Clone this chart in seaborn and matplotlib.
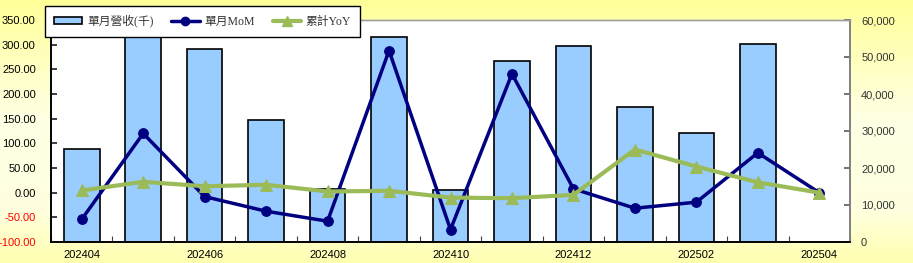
import numpy as np
import pandas as pd
import matplotlib
matplotlib.use("Agg")
import matplotlib.pyplot as plt
import matplotlib.patches as mpatches
import matplotlib.lines as mlines
from matplotlib.colors import LinearSegmentedColormap
import seaborn as sns

months = ["202404", "202405", "202406", "202407", "202408", "202409", "202410",
          "202411", "202412", "202501", "202502", "202503", "202504"]
revenue = [25200, 55600, 52100, 32900, 14200, 55500, 14100,
           48900, 53000, 36600, 29500, 53400, np.nan]
mom = [-54, 120, -8, -37.6, -57.8, 288, -74.7, 241, 7.8, -31.5, -19.3, 80.8, 0]
yoy = [4.4, 22, 13, 16, 2.4, 3.8, -10, -11.2, -4.4, 87.5, 53, 21, 0]
tick_labels = ["202404", "", "202406", "", "202408", "", "202410", "",
               "202412", "", "202502", "", "202504"]

sns.set_theme(style="white")
plt.rcParams['font.family'] = ['Liberation Sans', 'Noto Sans CJK TC', 'DejaVu Sans']

W, H = 913, 263
fig = plt.figure(figsize=(W / 100, H / 100), dpi=100)

# gradient background
bg = fig.add_axes([0, 0, 1, 1], zorder=-10)
cmap = LinearSegmentedColormap.from_list(
    "bgy", [(0.0, "#FFFF99"), (0.45, "#FFFFE4"), (0.8, "#FFFFE0"), (1.0, "#FFFFB0")])
grad = np.linspace(0, 1, 256).reshape(-1, 1)
bg.imshow(grad, aspect="auto", cmap=cmap, extent=[0, 1, 0, 1], origin="upper")
bg.axis("off")

x0, x1, y0, y1 = 51, 850, 20, 242
ax = fig.add_axes([x0 / W, 1 - y1 / H, (x1 - x0) / W, (y1 - y0) / H])
ax.set_facecolor("white")

df = pd.DataFrame({"month": months, "revenue": revenue})
sns.barplot(data=df, x="month", y="revenue", order=months, ax=ax,
            color="#99CCFF", saturation=1, width=0.58,
            edgecolor="black", linewidth=1.2, errorbar=None)
ax.set_xlim(-0.5, len(months) - 0.5)
ax.set_ylim(0, 60000)
ax.set_yticks(np.arange(0, 60001, 10000))
ax.set_yticklabels([f"{v:,}" for v in range(0, 60001, 10000)])
ax.set_xlabel("")
ax.set_ylabel("")

ax2 = ax.twinx()
xs = np.arange(len(months))
sns.lineplot(x=xs, y=mom, ax=ax2, color="#000080", linewidth=2.5,
             marker="o", markersize=7, markeredgecolor="#000080", zorder=3)
sns.lineplot(x=xs, y=yoy, ax=ax2, color="#9BBB59", linewidth=3,
             marker="^", markersize=9, markeredgecolor="#9BBB59", zorder=4)
ax2.set_ylim(-100, 350)
ax2.set_yticks(np.arange(-100, 351, 50))
ax2.set_yticklabels([f"{v:.2f}" for v in np.arange(-100, 351, 50)])
ax2.set_ylabel("")

# swap sides: bars axis on right, lines axis on left
ax.yaxis.tick_right()
ax.yaxis.set_label_position("right")
ax2.yaxis.tick_left()
ax2.yaxis.set_label_position("left")

for lbl, v in zip(ax2.get_yticklabels(), np.arange(-100, 351, 50)):
    lbl.set_color("#FF0000" if v < 0 else "black")

ax.set_xticks(xs)
ax.set_xticklabels(tick_labels)
ax.set_xticks(np.arange(-0.5, len(months), 1.0), minor=True)
ax.tick_params(axis="x", which="major", length=0, labelsize=8, pad=6, colors="black")
ax.tick_params(axis="x", which="minor", length=4, width=0.8, direction="in",
               color="#404040", bottom=True)
ax.tick_params(axis="y", which="major", length=4, direction="in", labelsize=8,
               labelcolor="#333333", color="#606060", right=True, left=False,
               labelright=True, labelleft=False, pad=8)
ax2.tick_params(axis="y", which="major", length=4, direction="in", labelsize=8,
                left=True, right=False, labelleft=True, labelright=False, pad=11)
ax.grid(False)
ax2.grid(False)

for a in (ax, ax2):
    a.spines["left"].set_color("black")
    a.spines["bottom"].set_color("black")
    a.spines["right"].set_color("#808080")
    a.spines["top"].set_color("#A0A0A0")
    for s in a.spines.values():
        s.set_linewidth(1.2)
    a.spines["top"].set_linewidth(1.0)

handles = [
    mpatches.Patch(facecolor="#99CCFF", edgecolor="black", linewidth=1.2),
    mlines.Line2D([], [], color="#000080", linewidth=2.5, marker="o", markersize=6),
    mlines.Line2D([], [], color="#9BBB59", linewidth=3, marker="^", markersize=7),
]
labels = ["單月營收(千)", "單月MoM", "累計YoY"]
leg = fig.legend(handles, labels, loc="upper left", ncol=3, mode="expand",
                 bbox_to_anchor=(45 / W, 1 - 35 / H, 315 / W, 29 / H), borderaxespad=0,
                 frameon=True, fancybox=False, framealpha=1, edgecolor="black",
                 facecolor="white", handlelength=2.4, handleheight=0.5,
                 handletextpad=0.4, columnspacing=1.5, borderpad=0.75,
                 prop={"family": ["Liberation Serif", "Noto Sans CJK TC"], "size": 8.5})
leg.get_frame().set_linewidth(1.0)
for t in leg.get_texts():
    t.set_color("#333333")

fig.savefig("out.png", dpi=100)
